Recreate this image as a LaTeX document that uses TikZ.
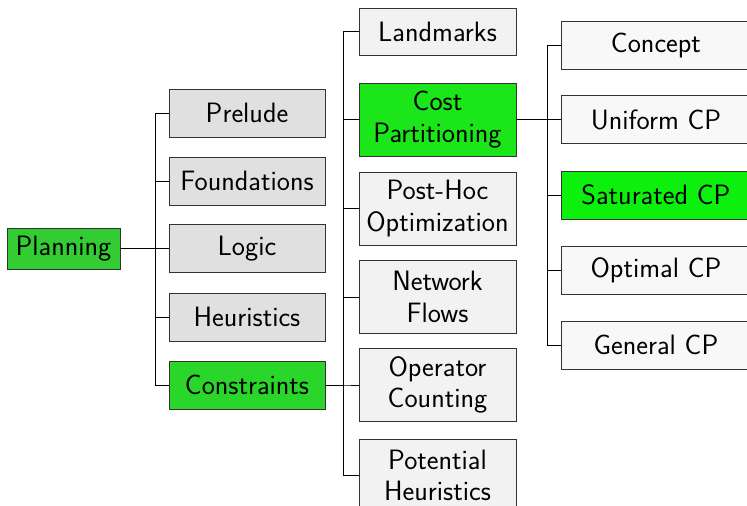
\documentclass[tikz,border=0pt]{standalone}
\usepackage{fontspec}
\definecolor{gA}{RGB}{224,224,224}
\definecolor{gB}{RGB}{242,242,242}
\definecolor{gC}{RGB}{248,248,248}
\definecolor{grP}{RGB}{51,204,51}
\definecolor{grC}{RGB}{41,214,41}
\definecolor{grK}{RGB}{26,230,26}
\definecolor{grS}{RGB}{13,240,13}
\tikzset{
  box/.style={draw=black!80,line width=1pt,inner sep=0pt,align=center,
    font=\fontsize{28}{31.5}\selectfont\sffamily},
  lone/.style={box,fill=gA,minimum width=156pt,minimum height=48pt},
  ltwo/.style={box,fill=gB,minimum width=157pt,minimum height=73pt},
  ltwos/.style={ltwo,minimum height=47pt},
  lthree/.style={box,fill=gC,minimum width=190pt,minimum height=48pt},
  conn/.style={line width=1pt,black}
}
\begin{document}
\begin{tikzpicture}[x=1pt,y=-1pt]
\clip (0,0) rectangle (747,506);
\node[box,fill=grP,minimum width=113pt,minimum height=41pt] (plan) at (63.5,248.5) {Planning};
\node[lone] (prel) at (247,113) {Prelude};
\node[lone] (found) at (247,181) {Foundations};
\node[lone] (logic) at (247,248.5) {Logic};
\node[lone] (heur) at (247,317) {Heuristics};
\node[lone,fill=grC] (cons) at (247,385) {Constraints};
\node[ltwos] (land) at (437.5,31.5) {Landmarks};
\node[ltwo,fill=grK] (cost) at (437.5,119.5) {Cost\\Partitioning};
\node[ltwo] (post) at (437.5,208.5) {Post-Hoc\\Optimization};
\node[ltwo] (net) at (437.5,297) {Network\\Flows};
\node[ltwo] (oper) at (437.5,385) {Operator\\Counting};
\node[ltwo] (pot) at (437.5,475.5) {Potential\\Heuristics};
\node[lthree] (conc) at (656,45) {Concept};
\node[lthree] (unif) at (656,119.5) {Uniform CP};
\node[lthree,fill=grS] (sat) at (656,195) {Saturated CP};
\node[lthree] (opt) at (656,270) {Optimal CP};
\node[lthree] (gen) at (656,345) {General CP};
\foreach \c in {prel,found,logic,heur,cons}
  \draw[conn] (plan.east) -- ++(35,0) |- (\c.west);
\foreach \c in {land,cost,post,net,oper,pot}
  \draw[conn] (cons.east) -- ++(18,0) |- (\c.west);
\foreach \c in {conc,unif,sat,opt,gen}
  \draw[conn] (cost.east) -- ++(31,0) |- (\c.west);
\end{tikzpicture}
\end{document}
